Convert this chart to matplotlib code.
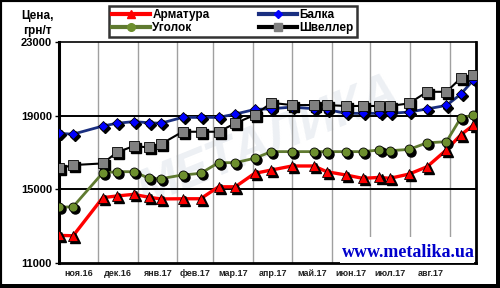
import matplotlib
matplotlib.use("Agg")
import matplotlib.pyplot as plt
import matplotlib.transforms as mtransforms
from matplotlib.patches import Rectangle
import pandas as pd

dates = ["2016-11-01", "2016-11-12", "2016-12-05", "2016-12-16", "2016-12-29",
         "2017-01-10", "2017-01-19", "2017-02-05", "2017-02-19", "2017-03-05",
         "2017-03-18", "2017-04-02", "2017-04-15", "2017-05-01", "2017-05-18",
         "2017-05-28", "2017-06-12", "2017-06-25", "2017-07-08", "2017-07-16",
         "2017-07-31", "2017-08-14", "2017-08-29", "2017-09-09", "2017-09-19"]

armatura = [12500, 12480, 14550, 14640, 14730, 14570, 14480, 14490, 14490, 15140,
            15140, 15870, 16050, 16270, 16270, 15960, 15780, 15600, 15650, 15600,
            15830, 16230, 17140, 17950, 18490]
ugolok = [14020, 14060, 15900, 15960, 15960, 15600, 15580, 15780, 15870, 16450,
          16450, 16690, 17050, 17050, 17050, 17050, 17050, 17050, 17140, 17100,
          17170, 17530, 17590, 18860, 19040]
balka = [18040, 18000, 18440, 18590, 18680, 18620, 18590, 18910, 18910, 18910,
         19090, 19340, 19380, 19470, 19380, 19340, 19130, 19130, 19130, 19130,
         19200, 19370, 19560, 20160, 20940]
shveller = [16140, 16320, 16410, 17010, 17350, 17280, 17450, 18130, 18130, 18130,
            18590, 19040, 19700, 19580, 19580, 19580, 19530, 19530, 19530, 19530,
            19670, 20300, 20300, 21030, 21210]

month_starts = ["2016-11-01", "2016-12-01", "2017-01-01", "2017-02-01", "2017-03-01",
                "2017-04-01", "2017-05-01", "2017-06-01", "2017-07-01", "2017-08-01",
                "2017-09-01"]
month_labels = ["ноя.16", "дек.16", "янв.17", "фев.17", "мар.17", "апр.17",
                "май.17", "июн.17", "июл.17", "авг.17"]
yticks = [11000, 15000, 19000, 23000]

plt.rcParams['font.family'] = ['Liberation Sans', 'DejaVu Sans']

x = pd.to_datetime(dates)
ms_dates = pd.to_datetime(month_starts)
mids = [ms_dates[i] + (ms_dates[i + 1] - ms_dates[i]) / 2 for i in range(len(month_labels))]

fig = plt.figure(figsize=(5.0, 2.88), dpi=100)
ax = fig.add_axes([0.118, 0.0868, 0.834, 0.767])

ax.set_xlim(pd.Timestamp("2016-11-01"), pd.Timestamp("2017-09-21"))
ax.set_ylim(11000, 23000)

# grid
for d in ms_dates[1:]:
    ax.axvline(d, color='#a0a0a0', lw=1.0, zorder=1)
for yv in [15000, 19000]:
    ax.axhline(yv, color='black', lw=1.4, zorder=1)

# watermark
ax.text(0.5, 0.55, "МЕТАЛИКА", transform=ax.transAxes, fontsize=36, fontweight='bold',
        fontstyle='italic', color='#edf0f4', rotation=22, ha='center', va='center', zorder=0)

shadow = mtransforms.offset_copy(ax.transData, fig=fig, x=1.5, y=-1.5, units='points')

series = [
    (armatura, 'Арматура', '#ff0000', '^', '#ff0000', 7, 2.4),
    (ugolok, 'Уголок', '#5f7a30', 'o', '#6d8f2e', 6.5, 2.0),
    (balka, 'Балка', '#1a2f80', 'D', '#0000ff', 5.5, 2.0),
    (shveller, 'Швеллер', '#000000', 's', '#808080', 6.5, 1.5),
]
handles = []
labels = []
for vals, name, lc, mk, mc, msz, lw in series:
    ax.plot(x, vals, color=lc, lw=lw, zorder=3)
    ax.plot(x, vals, ls='none', marker=mk, ms=msz, color='black', transform=shadow, zorder=4)
    ax.plot(x, vals, ls='none', marker=mk, ms=msz, mfc=mc, mec='black', mew=0.6, zorder=5)
    h, = ax.plot([], [], color=lc, lw=3, marker=mk, ms=msz - 1, mfc=mc, mec=mc)
    handles.append(h)
    labels.append(name)

ax.set_yticks(yticks)
ax.set_yticklabels([f"{v}" for v in yticks], fontsize=8, fontweight='bold')
ax.tick_params(axis='y', length=3, width=1, pad=2)
ax.set_xticks(mids)
ax.set_xticklabels(month_labels, fontsize=6.5, fontweight='bold', color='#222222')
ax.tick_params(axis='x', length=0, pad=4)

for side, w in [('left', 2.2), ('bottom', 2.0), ('top', 1.2), ('right', 2.0)]:
    ax.spines[side].set_linewidth(w)
    ax.spines[side].set_color('black')

order = [0, 1, 2, 3]
leg = fig.legend([handles[i] for i in order], [labels[i] for i in order], ncol=2,
                 loc='upper left', bbox_to_anchor=(0.207, 1.0), frameon=True,
                 fancybox=False, prop={'weight': 'bold', 'size': 8.5},
                 handlelength=3.2, handletextpad=0.2, columnspacing=4.2,
                 labelspacing=0.1, borderpad=0.25)
leg.get_frame().set_edgecolor('black')
leg.get_frame().set_linewidth(1.8)

fig.text(0.074, 0.965, "Цена,\nгрн/т", ha='center', va='top', fontsize=8.5,
         fontweight='bold', linespacing=1.3)

# url box
ax.add_patch(Rectangle((0.674, 0.0), 0.322, 0.118, transform=ax.transAxes,
                       facecolor='white', edgecolor='none', zorder=6))
ax.text(0.996, 0.0285, "www.metalika.ua", transform=ax.transAxes, ha='right', va='baseline',
        fontsize=13, fontweight='bold', family='Liberation Serif', color='#0000cc', zorder=7)

# outer frame
fig.add_artist(Rectangle((0, 0), 1, 1, transform=fig.transFigure, fill=False,
                         edgecolor='black', lw=3))
fig.add_artist(Rectangle((0.992, 0), 0.008, 1, transform=fig.transFigure,
                         facecolor='black', edgecolor='none'))
fig.add_artist(Rectangle((0, 0), 1, 0.014, transform=fig.transFigure,
                         facecolor='black', edgecolor='none'))

fig.savefig("out.png", dpi=100)
